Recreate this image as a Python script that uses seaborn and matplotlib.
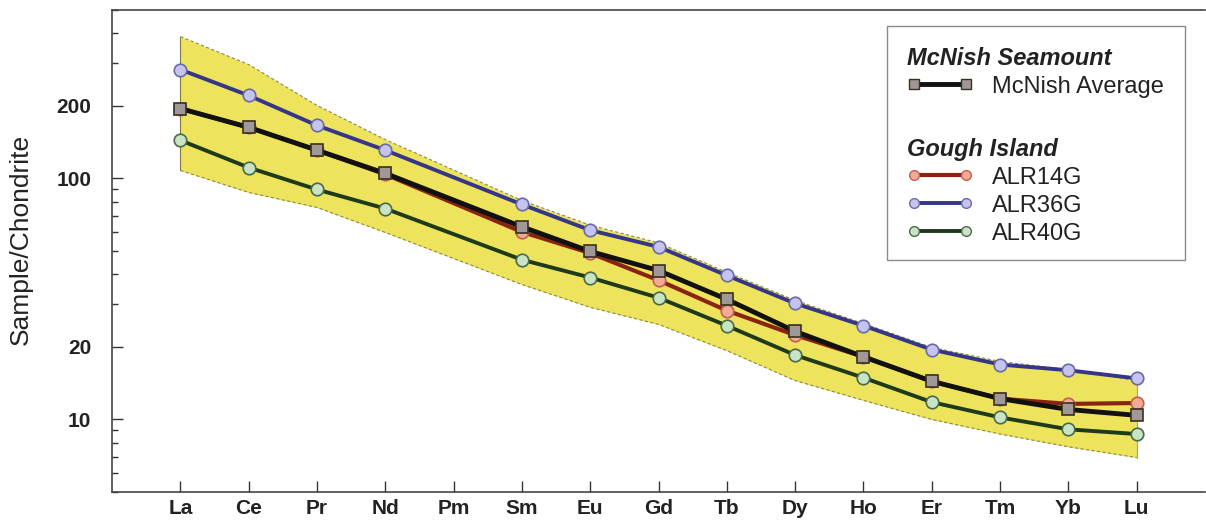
import numpy as np
import pandas as pd
import matplotlib
matplotlib.use("Agg")
import matplotlib.pyplot as plt
import seaborn as sns
from matplotlib.lines import Line2D
from matplotlib.patches import Rectangle

# ---- data ----
elements = ["La", "Ce", "Pr", "Nd", "Pm", "Sm", "Eu", "Gd", "Tb", "Dy", "Ho", "Er", "Tm", "Yb", "Lu"]
# measured elements (Pm not measured)
measured = ["La", "Ce", "Pr", "Nd", "Sm", "Eu", "Gd", "Tb", "Dy", "Ho", "Er", "Tm", "Yb", "Lu"]

mcnish_avg = [195, 163, 131, 105, 63, 49.8, 41.5, 31.5, 23.2, 18.2, 14.4, 12.2, 11.0, 10.4]
alr14g = [195, 163, 131, 104, 60, 49.0, 37.8, 28.3, 22.4, 18.2, 14.4, 12.2, 11.6, 11.7]
alr36g = [283, 221, 166, 131, 78, 61, 52, 39.6, 30.3, 24.5, 19.5, 16.9, 16.0, 14.8]
alr40g = [144, 111, 90, 75, 46, 38.8, 32, 24.5, 18.5, 14.9, 11.8, 10.2, 9.1, 8.7]

field_upper = [388, 297, 201, 145, 81, 64, 54, 40.8, 31.2, 25.0, 19.9, 17.4, 16.1, 14.5]
field_lower = [108, 87.5, 75.8, 59.7, 36.3, 29.2, 24.8, 19.3, 14.5, 12.0, 10.0, 8.7, 7.7, 6.95]

ytick_vals = [10, 20, 100, 200]

# ---- setup ----
sns.set_theme(style="white")
plt.rcParams["font.family"] = ["Liberation Sans", "DejaVu Sans"]

fig = plt.figure(figsize=(12.06, 5.29), dpi=100)
ax = fig.add_axes([112 / 1206, 1 - 492 / 529, (1205 - 112) / 1206, (492 - 10) / 529])

pos = {e: i for i, e in enumerate(elements)}
xm = np.array([pos[e] for e in measured], dtype=float)

# yellow field
ax.fill_between(xm, field_lower, field_upper, color="#ede35c", zorder=1, linewidth=0)
ax.plot(xm, field_upper, color="#8a8a40", lw=0.8, ls=(0, (3, 2)), zorder=1.5)
ax.plot(xm, field_lower, color="#8a8a40", lw=0.8, ls=(0, (3, 2)), zorder=1.5)
ax.plot([xm[0], xm[0]], [field_lower[0], field_upper[0]], color="#7a7a40", lw=0.8, zorder=1.5)
ax.plot([xm[-1], xm[-1]], [field_lower[-1], field_upper[-1]], color="#b0a840", lw=0.8, zorder=1.5)

df = pd.DataFrame({
    "x": np.tile(xm, 4),
    "value": np.concatenate([alr40g, alr36g, alr14g, mcnish_avg]),
    "series": np.repeat(["ALR40G", "ALR36G", "ALR14G", "McNish Average"], len(xm)),
})

styles = {
    "ALR40G": dict(color="#1d3a1d", marker="o", mfc="#c8e4c4", mec="#4a6a4a", lw=2.8, ms=9, z=3),
    "ALR36G": dict(color="#35358a", marker="o", mfc="#c4c4ee", mec="#6a6aa8", lw=2.8, ms=9, z=3),
    "ALR14G": dict(color="#8a2412", marker="o", mfc="#f2aa94", mec="#c06050", lw=3.0, ms=9, z=4),
    "McNish Average": dict(color="#111111", marker="s", mfc="#a09896", mec="#3a3020", lw=3.5, ms=9, z=5),
}

for name, st in styles.items():
    sub = df[df["series"] == name]
    sns.lineplot(data=sub, x="x", y="value", ax=ax, color=st["color"], lw=st["lw"],
                 marker=st["marker"], markersize=st["ms"], markerfacecolor=st["mfc"],
                 markeredgecolor=st["mec"], markeredgewidth=1.2, zorder=st["z"],
                 legend=False, sort=False)

# ---- axes ----
ax.set_yscale("log")
ax.set_ylim(5, 500)
ax.set_xlim(-1, 15)
ax.set_yticks(ytick_vals)
ax.set_yticklabels([str(v) for v in ytick_vals])
ax.yaxis.set_minor_locator(matplotlib.ticker.LogLocator(base=10, subs=np.arange(2, 10)))
ax.yaxis.set_minor_formatter(matplotlib.ticker.NullFormatter())
ax.set_xticks(range(len(elements)))
ax.set_xticklabels(elements)

ax.tick_params(axis="y", which="major", direction="in", length=8, width=1, color="#333333",
               pad=15, labelsize=15, labelcolor="#222222", left=True)
ax.tick_params(axis="y", which="minor", direction="in", length=4, width=1, color="#333333", left=True)
ax.tick_params(axis="x", direction="in", length=8, width=1, color="#333333",
               pad=5, labelsize=15, labelcolor="#222222", bottom=True)
for lab in ax.get_xticklabels() + ax.get_yticklabels():
    lab.set_fontweight("bold")

for side in ["left", "bottom", "top"]:
    ax.spines[side].set_visible(True)
    ax.spines[side].set_color("#444444")
    ax.spines[side].set_linewidth(1.2)
ax.spines["right"].set_visible(False)

ax.set_xlabel("")
ax.set_ylabel("Sample/Chondrite", fontsize=19, color="#222222")
ax.yaxis.set_label_coords(-0.072, 0.523)
ax.grid(False)

# ---- legend ----
def to_ax(px, py):
    return (px - 112) / 1093, 1 - (py - 10) / 482

x0, y0 = to_ax(887, 26)
x1, y1 = to_ax(1185, 260)
ax.add_patch(Rectangle((x0, y1), x1 - x0, y0 - y1, transform=ax.transAxes,
                       fill=True, facecolor="white", edgecolor="#8a8a8a", lw=1.0, zorder=6))

def mk_handle(name):
    st = styles[name]
    return Line2D([], [], color=st["color"], lw=st["lw"], marker=st["marker"], markersize=7,
                  markerfacecolor=st["mfc"], markeredgecolor=st["mec"], markeredgewidth=1.0)

leg_kw = dict(frameon=False, fontsize=17, numpoints=2, handlelength=2.8, handletextpad=0.8,
              labelspacing=0.25, borderpad=0.0, loc="upper left", alignment="left",
              labelcolor="#222222", title_fontproperties={"size": 17, "weight": "bold", "style": "italic"})

l1 = ax.legend(handles=[mk_handle("McNish Average")], labels=["McNish Average"],
               title="McNish Seamount", bbox_to_anchor=to_ax(895, 35), **leg_kw)
l1.set_zorder(7)
ax.add_artist(l1)
l2 = ax.legend(handles=[mk_handle("ALR14G"), mk_handle("ALR36G"), mk_handle("ALR40G")],
               labels=["ALR14G", "ALR36G", "ALR40G"],
               title="Gough Island", bbox_to_anchor=to_ax(895, 126), **leg_kw)
l2.set_zorder(7)
for lg in (l1, l2):
    lg.get_title().set_color("#222222")

fig.savefig("out.png", dpi=100)
